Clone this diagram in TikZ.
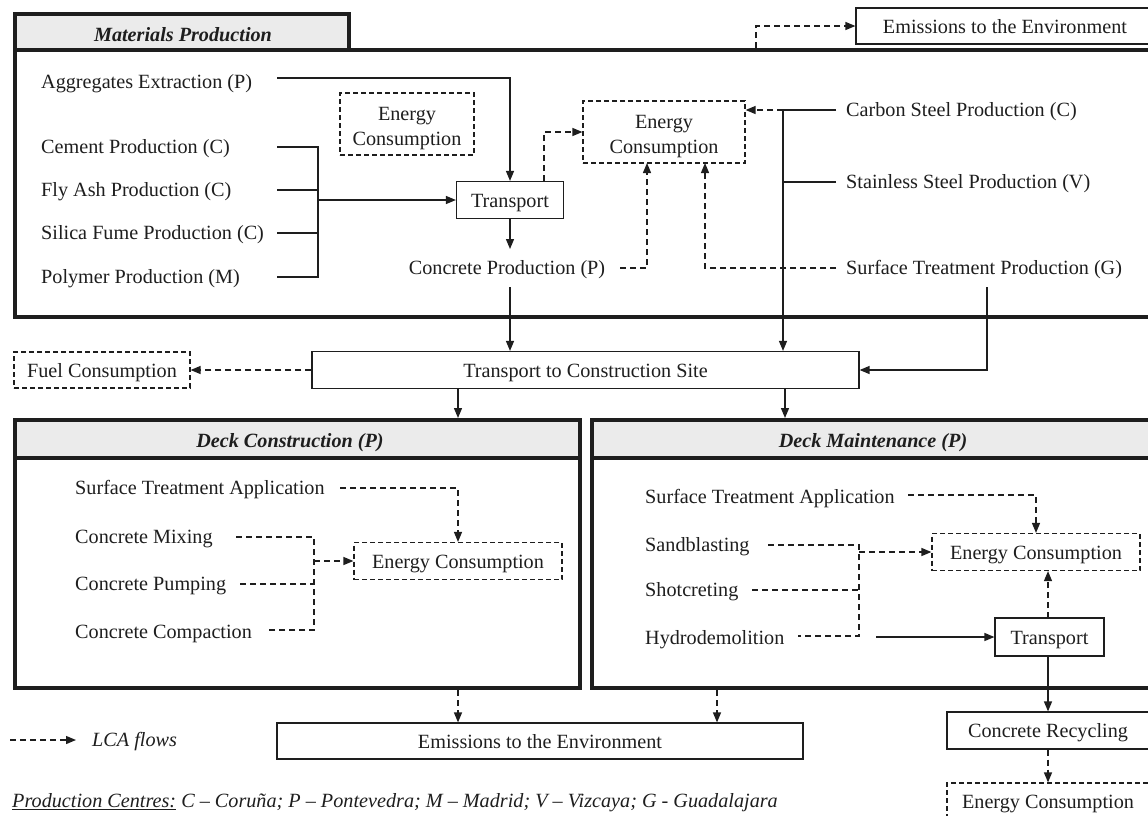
\documentclass[tikz,border=0pt]{standalone}
\usepackage{fontspec}
\setmainfont{Liberation Serif}
\usetikzlibrary{arrows.meta,calc}
\newcommand\dfont{\fontsize{20.2}{25}\selectfont}
\definecolor{hdr}{HTML}{EBEBEB}
\definecolor{ink}{HTML}{1E1E1E}
\tikzset{
  txt/.style={font=\dfont, inner sep=0pt, anchor=west, text=ink, text height=16pt, text depth=2pt},
  box/.style={draw=ink, line width=1.2pt, font=\dfont, inner sep=0pt, minimum height=37pt, text=ink, text height=16pt, text depth=2pt},
  dbox/.style={box, dash pattern=on 5pt off 3pt},
  twoline/.style={align=center, text height=44pt, text depth=2pt, minimum height=62pt},
  ln/.style={draw=ink, line width=1.3pt},
  dln/.style={ln, dash pattern=on 6pt off 4pt},
  ar/.style={ln, -{Triangle[length=10pt,width=8pt]}},
  dar/.style={dln, -{Triangle[length=10pt,width=8pt]}},
  frame/.style={draw=ink, line width=4pt},
  title/.style={font=\dfont\bfseries\itshape, inner sep=0pt, text=ink, text height=16pt, text depth=2pt},
}
\begin{document}
\begin{tikzpicture}[x=1pt,y=-1pt]
\clip (0,0) rectangle (1148,815);
\fill[white] (0,0) rectangle (1148,815);

% ---------- Materials Production frame ----------
\draw[frame, fill=hdr] (15,14) rectangle (349,50);
\draw[frame] (15,50) rectangle (1170,317);
\node[title] (mpT) at (183,34) {Materials Production};

% top emissions
\node[box, minimum width=298pt, minimum height=36pt] (emtop) at (1005,26) {Emissions to the Environment};
\coordinate (emsrc) at (756,48);
\draw[dar] (emsrc) |- (emtop);

% left inputs
\node[txt] (agg) at (41,81) {Aggregates Extraction (P)};
\node[txt] (cem) at (41,146) {Cement Production (C)};
\node[txt] (fly) at (41,189) {Fly Ash Production (C)};
\node[txt] (sil) at (41,232) {Silica Fume Production (C)};
\node[txt] (pol) at (41,276) {Polymer Production (M)};
\node[dbox, twoline, minimum width=134pt] (en1) at (407,124) {Energy\\Consumption};

\node[box, minimum width=107pt] (trans) at (510,200) {Transport};
\node[txt, anchor=center] (conc) at (507,267) {Concrete Production (P)};
\node[dbox, twoline, minimum width=162pt] (en2) at (664,132) {Energy\\Consumption};

\node[txt] (carb) at (846,109) {Carbon Steel Production (C)};
\node[txt] (stain) at (846,181) {Stainless Steel Production (V)};
\node[txt] (surfG) at (846,267) {Surface Treatment Production (G)};

\coordinate (aggE) at (277,78);
\draw[ar] (aggE) -| (trans);

\coordinate (c1) at (277,147);
\coordinate (c2) at (277,190);
\coordinate (c3) at (277,233);
\coordinate (c4) at (277,277);
\coordinate (jt) at (318,147);
\coordinate (jb) at (318,277);
\coordinate (jm) at (318,200);
\draw[ln] (c1) -- (jt) -- (jb) -- (c4);
\draw[ln] (c2) -- (c2 -| jt);
\draw[ln] (c3) -- (c3 -| jt);
\draw[ar] (jm) -- (trans);

\coordinate (cup) at (510,249);
\draw[ar] (trans.south) -- (cup);

\coordinate (t1) at (544,181);
\draw[dar] (t1) |- (en2);

\coordinate (cp) at (620,268);
\coordinate (e2a) at (647,163);
\draw[dar] (cp) -| (e2a);

\coordinate (sp) at (836,268);
\coordinate (e2b) at (705,163);
\draw[dar] (sp) -| (e2b);

\coordinate (cs) at (836,110);
\coordinate (sj) at (783,110);
\coordinate (ss) at (836,182);
\draw[ln] (cs) -- (sj);
\draw[dar] (sj) -- (sj -| en2.east);
\draw[ln] (ss) -- (ss -| sj);

% ---------- Transport to construction site ----------
\node[box, minimum width=547pt] (tcs) at (585.5,370) {Transport to Construction Site};
\node[dbox, minimum width=176pt, minimum height=36pt] (fuel) at (102,370) {Fuel Consumption};
\draw[ar] (sj) -- (sj |- tcs.north);
\coordinate (cdn) at (510,287);
\draw[ar] (cdn) -- (cdn |- tcs.north);
\coordinate (sg) at (987,287);
\draw[ar] (sg) |- (tcs);
\draw[dar] (tcs) -- (fuel);

% ---------- Deck Construction ----------
\draw[frame, fill=hdr] (15,420) rectangle (580,458);
\draw[frame] (15,458) rectangle (580,688);
\node[title] (dcT) at (290,440) {Deck Construction (P)};
\coordinate (dcin) at (458,418);
\draw[ar] (tcs.south -| dcin) -- (dcin);

\node[txt] (sta1) at (75,487) {Surface Treatment Application};
\node[txt] (mix) at (75,536) {Concrete Mixing};
\node[txt] (pump) at (75,583) {Concrete Pumping};
\node[txt] (comp) at (75,631) {Concrete Compaction};
\node[dbox, minimum width=208pt] (en3) at (458,561) {Energy Consumption};

\coordinate (s1) at (340,488);
\draw[dar] (s1) -| (en3);
\coordinate (m1) at (236,537);
\coordinate (p1) at (240,584);
\coordinate (k1) at (267,630);
\coordinate (vt) at (314,537);
\coordinate (vb) at (314,630);
\coordinate (vm) at (314,561);
\draw[dln] (m1) -- (vt) -- (vb) -- (k1);
\draw[dln] (p1) -- (p1 -| vt);
\draw[dar] (vm) -- (en3);

% ---------- Deck Maintenance ----------
\draw[frame, fill=hdr] (592,420) rectangle (1170,458);
\draw[frame] (592,458) rectangle (1170,688);
\node[title] (dmT) at (873,440) {Deck Maintenance (P)};
\coordinate (dmin) at (785,418);
\draw[ar] (tcs.south -| dmin) -- (dmin);

\node[txt] (sta2) at (645,496) {Surface Treatment Application};
\node[txt] (sand) at (645,544) {Sandblasting};
\node[txt] (shot) at (645,589) {Shotcreting};
\node[txt] (hydro) at (645,637) {Hydrodemolition};
\node[dbox, minimum width=208pt] (en4) at (1036,552) {Energy Consumption};
\node[box, minimum width=109pt, minimum height=38pt] (tr2) at (1049.5,637) {Transport};

\coordinate (s2) at (908,495);
\draw[dar] (s2) -| (en4);
\coordinate (sa) at (768,545);
\coordinate (sh) at (752,590);
\coordinate (hy) at (798,636);
\coordinate (wt) at (859,545);
\coordinate (wb) at (859,636);
\coordinate (wm) at (859,552);
\draw[dln] (sa) -- (wt) -- (wb) -- (hy);
\draw[dln] (sh) -- (sh -| wt);
\draw[dar] (wm) -- (en4);
\coordinate (hs) at (876,637);
\draw[ar] (hs) -- (tr2);
\coordinate (trx) at (1048,618);
\draw[dar] (trx) -- (trx |- en4.south);

% ---------- bottom ----------
\node[box, minimum width=526pt, minimum height=36pt] (embot) at (540,741) {Emissions to the Environment};
\coordinate (e1) at (458,690);
\coordinate (e2) at (717,690);
\draw[dar] (e1) -- (e1 |- embot.north);
\draw[dar] (e2) -- (e2 |- embot.north);

\node[box, minimum width=202pt] (rec) at (1048,730.5) {Concrete Recycling};
\node[dbox, minimum width=202pt, minimum height=37pt] (en5) at (1048,801.5) {Energy Consumption};
\coordinate (trb) at (1048,656);
\draw[ar] (trb) -- (rec);
\draw[dar] (rec) -- (en5);

% legend
\coordinate (lg1) at (10,740);
\coordinate (lg2) at (76,740);
\draw[dar] (lg1) -- (lg2);
\node[txt, font=\dfont\itshape] (lgT) at (92,739) {LCA flows};
\node[txt, font=\dfont\itshape] (pc) at (12,800) {\underline{Production Centres:} C – Coruña; P – Pontevedra; M – Madrid; V – Vizcaya; G - Guadalajara};
\end{tikzpicture}
\end{document}
